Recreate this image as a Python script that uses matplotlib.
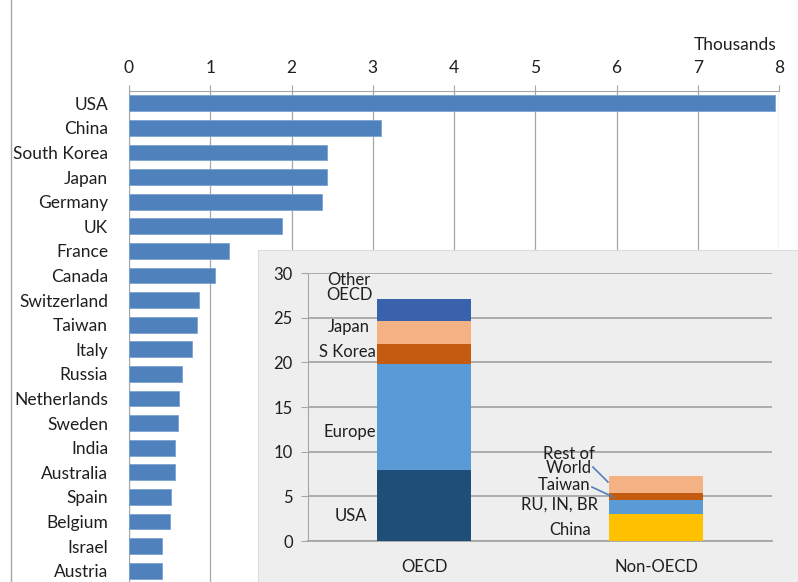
import matplotlib
matplotlib.use('Agg')
import matplotlib.pyplot as plt
from matplotlib.patches import Rectangle
from matplotlib.lines import Line2D

plt.rcParams['font.family'] = ['Lato', 'DejaVu Sans']

# main chart: thousands
countries = ['USA', 'China', 'South Korea', 'Japan', 'Germany', 'UK', 'France', 'Canada',
             'Switzerland', 'Taiwan', 'Italy', 'Russia', 'Netherlands', 'Sweden', 'India',
             'Australia', 'Spain', 'Belgium', 'Israel', 'Austria']
values = [7.95, 3.10, 2.44, 2.44, 2.37, 1.88, 1.23, 1.06,
          0.86, 0.84, 0.77, 0.65, 0.61, 0.60, 0.57,
          0.56, 0.52, 0.50, 0.41, 0.40]
x_ticks = [0, 1, 2, 3, 4, 5, 6, 7, 8]

# inset: stacked totals
groups = ['OECD', 'Non-OECD']
oecd_parts = ['USA', 'Europe', 'S Korea', 'Japan', 'Other\nOECD']
oecd_vals = [8.0, 11.8, 2.3, 2.5, 2.5]
oecd_colors = ['#1F4E79', '#5B9BD5', '#C55A11', '#F4B183', '#3A61AC']
non_parts = ['China', 'RU, IN, BR', 'Taiwan', 'Rest of\nWorld']
non_vals = [3.05, 1.55, 0.8, 1.9]
non_colors = ['#FFC000', '#5B9BD5', '#C55A11', '#F4B183']
inset_ticks = [0, 5, 10, 15, 20, 25, 30]

TXT = '#1F1F1F'
W, H = 798, 582
fig = plt.figure(figsize=(W / 100, H / 100), dpi=100)

# main horizontal bar chart
ax = fig.add_axes([129 / W, 1 - 583 / H, 650 / W, 492 / H])
pos = list(range(len(countries)))
ax.barh(pos, values, height=0.64, color='#4F81BD', edgecolor='#7BA3D3', linewidth=0.6, zorder=3)
ax.set_ylim(len(countries) - 0.5, -0.5)
ax.set_xlim(0, 8)
ax.set_yticks(pos)
ax.set_yticklabels(countries, fontsize=12.5, color=TXT)
ax.set_xticks(x_ticks)
ax.xaxis.tick_top()
ax.tick_params(axis='x', length=4, pad=7, color='#A6A6A6', labelsize=12.5, labelcolor=TXT)
ax.tick_params(axis='y', length=0, pad=15)
ax.grid(axis='x', color='#A6A6A6', linewidth=0.9, zorder=0)
for s in ['right', 'bottom']:
    ax.spines[s].set_visible(False)
ax.spines['top'].set_color('#A6A6A6')
ax.spines['left'].set_color('#A6A6A6')
fig.text(735 / W, 1 - 45 / H, 'Thousands', ha='center', va='center', fontsize=12.5, color=TXT)

# outer frame line on left
fig.add_artist(Line2D([11 / W, 11 / W], [0, 1], color='#A6A6A6', linewidth=1))

# inset panel background
fig.add_artist(Rectangle((258 / W, 0), 540 / W, 332 / H, transform=fig.transFigure,
                         facecolor='#EEEEEE', edgecolor='#DDDDDD', linewidth=0.8, zorder=5))

ax2 = fig.add_axes([308 / W, 1 - 541 / H, 464 / W, 268 / H], zorder=6)
ax2.set_facecolor('#EEEEEE')
ax2.set_xlim(-0.5, 1.5)
ax2.set_ylim(0, 30)
ax2.set_yticks(inset_ticks)
ax2.set_xticks([0, 1])
ax2.set_xticklabels(groups, fontsize=12, color=TXT)
ax2.tick_params(axis='x', length=0, pad=13)
ax2.tick_params(axis='y', length=5, color='#A6A6A6', pad=6, labelsize=12, labelcolor=TXT)
ax2.grid(axis='y', color='#A6A6A6', linewidth=1.3, zorder=0)
for s in ['top', 'right']:
    ax2.spines[s].set_visible(False)
ax2.spines['left'].set_color('#A6A6A6')
ax2.spines['bottom'].set_color('#A6A6A6')
ax2.spines['bottom'].set_linewidth(1.3)

bw = 0.405
bottom = 0
for v, c in zip(oecd_vals, oecd_colors):
    ax2.bar(0, v, bottom=bottom, width=bw, color=c, zorder=3)
    bottom += v
bottom = 0
for v, c in zip(non_vals, non_colors):
    ax2.bar(1, v, bottom=bottom, width=bw, color=c, zorder=3)
    bottom += v

# segment labels
tkw = dict(fontsize=12, color=TXT, ha='center', va='center', linespacing=0.9)
oecd_label_x = [-0.315, -0.319, -0.332, -0.323, -0.323]
oecd_label_y = [2.8, 12.2, 21.16, 23.96, 28.4]
for lab, xx, yy in zip(oecd_parts, oecd_label_x, oecd_label_y):
    ax2.text(xx, yy, lab, **tkw)
non_label_x = [0.629, 0.582, 0.603, 0.625]
non_label_y = [1.23, 4.03, 6.27, 8.96]
for lab, xx, yy in zip(non_parts, non_label_x, non_label_y):
    ax2.text(xx, yy, lab, **tkw)
ax2.plot([0.728, 0.793], [8.28, 6.6], color='#4F81BD', linewidth=1.2, zorder=4)
ax2.plot([0.724, 0.815], [6.04, 4.93], color='#4F81BD', linewidth=1.2, zorder=4)

fig.savefig('out.png', dpi=100)
